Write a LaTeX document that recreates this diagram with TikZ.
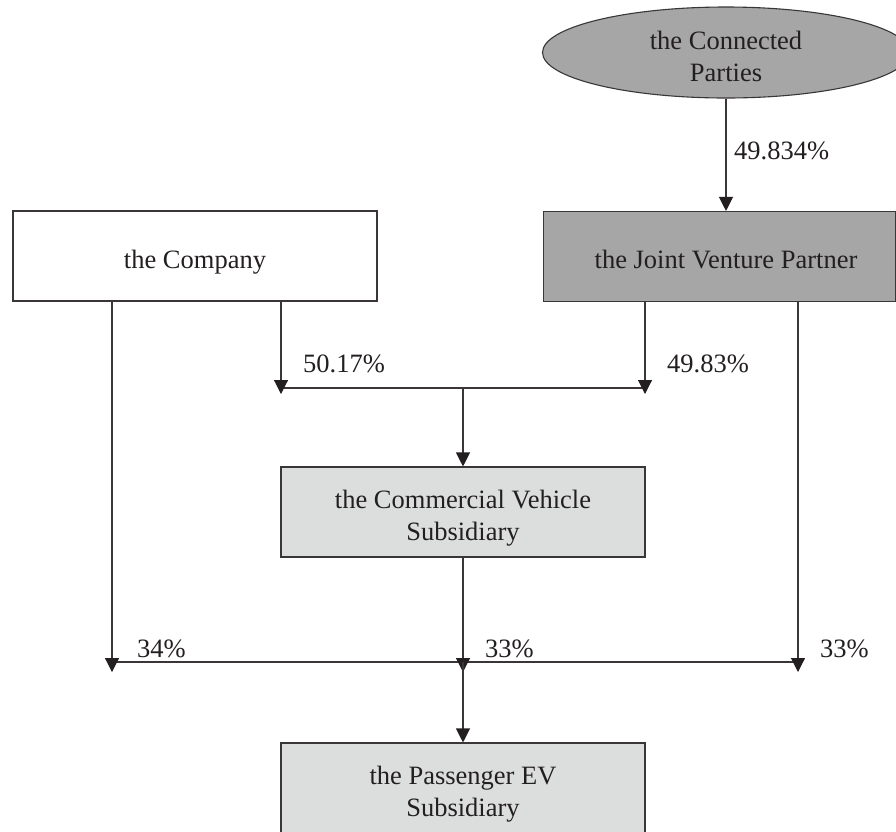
\documentclass[tikz,border=0pt]{standalone}
\usepackage{fontspec}
\setmainfont{Liberation Serif}
\usetikzlibrary{arrows.meta,shapes.geometric}
\definecolor{ink}{HTML}{231F20}
\definecolor{linec}{HTML}{3A3637}
\definecolor{darkfill}{HTML}{A6A6A6}
\definecolor{lightfill}{HTML}{DCDEDD}
\tikzset{
  txt/.style={text=ink, font=\fontsize{26.5}{32}\selectfont, inner sep=0pt},
  boxtext/.style={txt, align=center, yshift=-6pt},
  pct/.style={txt, anchor=base west},
  box/.style={draw=linec, line width=1.1pt, minimum height=90pt, inner sep=0pt},
  conn/.style={draw=linec, line width=1.1pt},
  arr/.style={conn, -{Triangle[length=14pt,width=14pt,color=ink]}}
}
\begin{document}
\begin{tikzpicture}[x=1pt,y=-1pt]
\useasboundingbox (0,0) rectangle (896,831);
\clip (0,0) rectangle (896,831);
\fill[white] (0,0) rectangle (896,831);

% shapes
\node[ellipse, draw=linec, line width=1.1pt, fill=darkfill, minimum width=367pt, minimum height=91pt, inner sep=0pt] (cp) at (726,52.5) {};
\node[boxtext] (cpt) at ([yshift=2pt]cp.center) {the Connected\\Parties};

\node[box, fill=white, minimum width=364pt] (co) at (195,256) {};
\node[boxtext] (cot) at (co.center) {the Company};

\node[box, fill=darkfill, minimum width=352pt] (jv) at (719.5,256.5) {};
\node[boxtext, text depth=5.75pt] (jvt) at (726,256.5) {the Joint Venture Partner};

\node[box, fill=lightfill, minimum width=364pt] (cv) at (463,512) {};
\node[boxtext] (cvt) at (cv.center) {the Commercial Vehicle\\Subsidiary};

\node[box, fill=lightfill, minimum width=364pt] (pev) at (463,788) {};
\node[boxtext] (pevt) at (pev.center) {the Passenger EV\\Subsidiary};

% junction coordinates
\coordinate (coL) at (112,301);
\coordinate (coR) at (281,301);
\coordinate (jvL) at (645,302);
\coordinate (jvR) at (798,302);
\coordinate (hA) at (281,388);
\coordinate (hB) at (645,388);
\coordinate (hC) at (463,388);
\coordinate (tA) at (281,394);
\coordinate (tB) at (645,394);
\coordinate (lA) at (112,662);
\coordinate (lB) at (463,662);
\coordinate (lC) at (798,662);
\coordinate (uA) at (112,672);
\coordinate (uB) at (463,672);
\coordinate (uC) at (798,672);

% connectors
\draw[arr] (cp.south -| jvt.center) -- (jvt.center |- jv.north);
\draw[conn] (hA) -- (hB);
\draw[arr] (coR) -- (tA);
\draw[arr] (jvL) -- (tB);
\draw[arr] (hC) -- (cv.north);
\draw[conn] (lA) -- (lC);
\draw[arr] (coL) -- (uA);
\draw[arr] (cv.south) -- (uB);
\draw[arr] (jvR) -- (uC);
\draw[arr] (lB) -- (pev.north);

% labels
\node[pct] (p1) at (734,159) {49.834\%};
\node[pct] (p2) at (303,372) {50.17\%};
\node[pct] (p3) at (667,372) {49.83\%};
\node[pct] (p4) at (137,657) {34\%};
\node[pct] (p5) at (485,657) {33\%};
\node[pct] (p6) at (820,657) {33\%};
\end{tikzpicture}
\end{document}
